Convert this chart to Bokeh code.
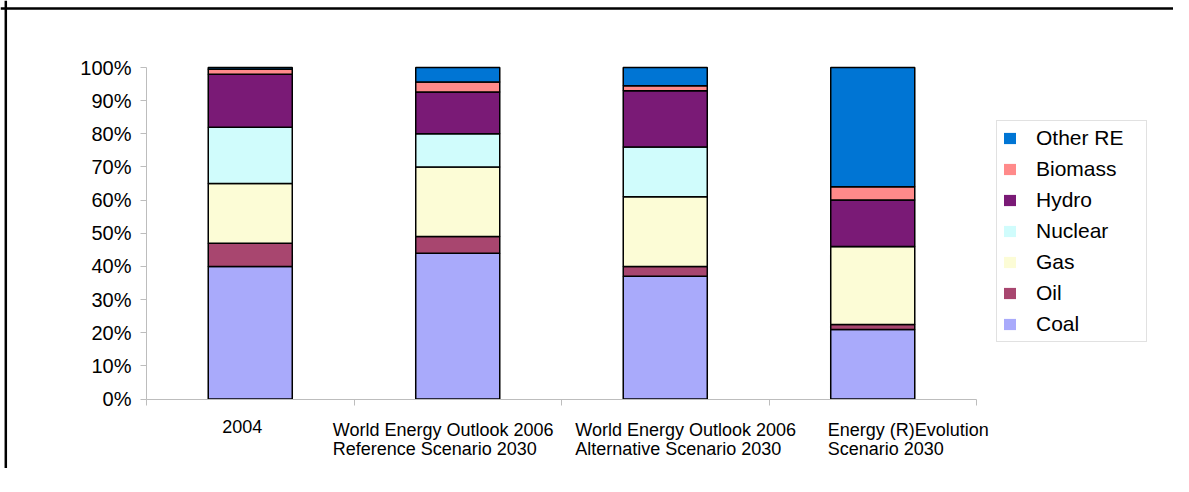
import numpy as np
from bokeh.plotting import figure
from bokeh.models import (ColumnDataSource, Range1d, FixedTicker, PrintfTickFormatter,
                          Legend, LegendItem, Label, Span)
from bokeh.embed import file_html
from bokeh.resources import INLINE

# ---- data ----
categories = [
    "2004",
    "World Energy Outlook 2006\nReference Scenario 2030",
    "World Energy Outlook 2006\n Alternative Scenario 2030",
    "Energy (R)Evolution\nScenario 2030",
]
series = ["Coal", "Oil", "Gas", "Nuclear", "Hydro", "Biomass", "Other RE"]
coal = [40, 44, 37, 21]
oil = [7, 5, 3, 1.5]
gas = [18, 21, 21, 23.5]
nuclear = [17, 10, 15, 0]
hydro = [16, 12.6, 17, 14]
biomass = [1.5, 3, 1.5, 4]
other_re = [0.5, 4.4, 5.5, 36]
y_ticks = [0, 10, 20, 30, 40, 50, 60, 70, 80, 90, 100]

# ---- styles / layout ----
colors = ["#A9AAFB", "#A8466F", "#FCFCD6", "#D0FCFC", "#7A1A76", "#FF8A8A", "#0075D4"]
label_dx = [-28, -125, -90, -45]   # pixel offsets of category labels (left edge)
FONT = "Liberation Sans"
W, H = 1173, 468
LEFT, TOP = 146, 67           # position of the plot area in px
PLOT_W, PLOT_H = 830, 331.5   # px spanned by the category axis / 0-100 %

n = len(categories)
ux = n / PLOT_W               # data units per px (x)
uy = 100 / PLOT_H             # data units per px (y)
x_start = -LEFT * ux
x_end = x_start + W * ux
y_end = 100 + TOP * uy
y_start = y_end - H * uy

src = ColumnDataSource(dict(
    x=[i + 0.5 for i in range(n)],
    Coal=coal, Oil=oil, Gas=gas, Nuclear=nuclear, Hydro=hydro,
    Biomass=biomass, **{"Other RE": other_re},
))

p = figure(width=W, height=H, output_backend="svg", toolbar_location=None,
           x_range=Range1d(x_start, x_end), y_range=Range1d(y_start, y_end),
           min_border_left=0, min_border_right=0,
           min_border_top=0, min_border_bottom=0)
p.grid.visible = False
p.outline_line_color = None

# outer frame lines (top and left) of the original picture
p.add_layout(Span(location=x_start + 5.3 * ux, dimension="height",
                  line_color="black", line_width=2.5))
p.add_layout(Span(location=y_end - 8 * uy, dimension="width",
                  line_color="black", line_width=2.5))

# legend swatches (no black outline): zero-height bars hidden under the first bar
swatches = [p.vbar(x=[0.5], top=[1], bottom=[1], width=0.01, fill_color=c,
                   line_color=c, line_alpha=0) for c in colors]

renderers = p.vbar_stack(series, x="x", width=0.405, fill_color=colors,
                         line_color="black", line_width=1.5, source=src)

# y axis, placed at x = 0
p.yaxis.fixed_location = 0
p.yaxis.ticker = FixedTicker(ticks=y_ticks)
p.yaxis.bounds = (0, 100)
p.yaxis.formatter = PrintfTickFormatter(format="%d%%")
p.yaxis.axis_line_color = "#BDBDBD"
p.yaxis.major_tick_line_color = "#BDBDBD"
p.yaxis.major_tick_out = 6
p.yaxis.major_tick_in = 0
p.yaxis.minor_tick_line_color = None
p.yaxis.major_label_standoff = 9
p.yaxis.major_label_text_font = FONT
p.yaxis.major_label_text_font_size = "20px"
p.yaxis.major_label_text_color = "black"

# x axis (ticks at category boundaries), placed at y = 0
p.xaxis.fixed_location = 0
p.xaxis.bounds = (0, n)
p.xaxis.ticker = FixedTicker(ticks=list(range(n + 1)))
p.xaxis.major_label_overrides = {i: "" for i in range(n + 1)}
p.xaxis.axis_line_color = "#BDBDBD"
p.xaxis.major_tick_line_color = "#BDBDBD"
p.xaxis.major_tick_out = 6
p.xaxis.major_tick_in = 0
p.xaxis.minor_tick_line_color = None

for i, (cat, dx) in enumerate(zip(categories, label_dx)):
    p.add_layout(Label(x=i + 0.5, y=0, x_offset=dx, y_offset=-21, text=cat,
                       text_align="left", text_baseline="top", text_font=FONT,
                       text_font_size="18px", text_line_height=0.95,
                       text_color="black"))

items = [LegendItem(label=s, renderers=[r]) for s, r in zip(series, swatches)][::-1]
legend = Legend(items=items, location=(996, H - 342),
                border_line_color="#C4C4C4", border_line_width=1,
                background_fill_color="white", background_fill_alpha=1,
                padding=5, margin=0, spacing=7,
                glyph_width=15, glyph_height=14, label_standoff=19,
                label_width=105, label_height=20,
                label_text_font=FONT, label_text_font_size="21px",
                label_text_color="black")
p.add_layout(legend)

open("out.html", "w").write(file_html(p, INLINE))
